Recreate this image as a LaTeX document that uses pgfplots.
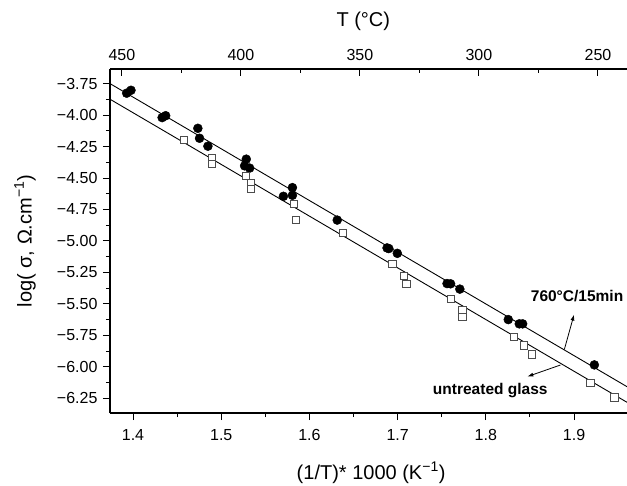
\documentclass[border=0pt]{standalone}
\usepackage{fontspec}
\setmainfont{Liberation Sans}
\usepackage{pgfplots}
\pgfplotsset{compat=1.18}
\usetikzlibrary{arrows.meta}
\begin{document}
\begin{tikzpicture}[x=1pt,y=1pt]
\path[use as bounding box] (-110,-72) rectangle (517,413);
\begin{axis}[
  at={(0,0)}, anchor=south west,
  width=517pt, height=344pt, scale only axis,
  xmin=1.3739, xmax=1.96, ymin=-6.366, ymax=-3.634,
  axis x line*=bottom, axis y line*=left,
  axis line style={line width=1.1pt},
  every tick/.style={black, line width=1pt},
  tick align=outside,
  major tick length=7pt, minor tick length=4pt,
  xtick={1.4,1.5,1.6,1.7,1.8,1.9},
  xticklabels={1.4,1.5,1.6,1.7,1.8,1.9},
  minor x tick num=1,
  ytick={-6.25,-6,-5.75,-5.5,-5.25,-5,-4.75,-4.5,-4.25,-4,-3.75},
  yticklabels={−6.25,−6.00,−5.75,−5.50,−5.25,−5.00,−4.75,−4.50,−4.25,−4.00,−3.75},
  minor y tick num=1,
  ticklabel style={font=\fontsize{16}{16}\selectfont},
  xticklabel style={yshift=-6pt},
  yticklabel style={xshift=-2pt},
  label style={font=\fontsize{20}{20}\selectfont},
  xlabel={(1/T)* 1000 (K\textsuperscript{−1})},
  ylabel={log( σ, Ω.cm\textsuperscript{−1})},
  xlabel style={at={(axis description cs:0.505,-0.1744)}, anchor=center},
  ylabel style={at={(axis description cs:-0.1644,0.5)}, anchor=center},
  clip=true,
]
% fitted lines
\addplot[black, line width=0.9pt] coordinates {(1.3739,-3.75) (1.96,-6.157)};
\addplot[black, line width=0.9pt] coordinates {(1.3739,-3.874) (1.96,-6.281)};
% 760C/15min (filled circles)
\addplot[only marks, mark=*, mark size=4.5pt, mark options={fill=black, draw=black}] coordinates {
(1.3928,-3.826) (1.3977,-3.803) (1.433,-4.020) (1.437,-4.005)
(1.4735,-4.105) (1.4754,-4.184) (1.4849,-4.247) (1.5284,-4.350)
(1.5265,-4.403) (1.5322,-4.421) (1.5705,-4.645) (1.5807,-4.576)
(1.5807,-4.637) (1.6315,-4.834) (1.6880,-5.055) (1.6900,-5.060)
(1.6996,-5.098) (1.7560,-5.338) (1.7600,-5.340) (1.7705,-5.382)
(1.8254,-5.624) (1.8379,-5.658) (1.8417,-5.658) (1.9230,-5.984)
};
% untreated glass (open squares)
\addplot[only marks, mark=square*, mark size=3.6pt, mark options={fill=white, draw=black!70, line width=0.8pt}] coordinates {
(1.458,-4.195) (1.489,-4.339) (1.489,-4.389) (1.528,-4.482)
(1.5337,-4.537) (1.534,-4.589) (1.582,-4.705) (1.585,-4.834)
(1.6383,-4.934) (1.694,-5.182) (1.7072,-5.274) (1.7099,-5.339)
(1.760,-5.458) (1.7735,-5.545) (1.7735,-5.603) (1.832,-5.761)
(1.8428,-5.829) (1.8523,-5.900) (1.9185,-6.124) (1.9458,-6.242)
};
\draw[line width=0.8pt, -{Latex[length=6pt,width=4pt]}] (axis cs:1.889,-5.861) -- (axis cs:1.900,-5.584);
\draw[line width=0.8pt, -{Latex[length=6pt,width=4pt]}] (axis cs:1.8845,-5.985) -- (axis cs:1.847,-6.077);
\node[font=\bfseries\fontsize{15.5}{15.5}\selectfont] at (axis cs:1.9034,-5.44) {760°C/15min};
\node[font=\bfseries\fontsize{15.5}{15.5}\selectfont] at (axis cs:1.805,-6.19) {untreated glass};
\end{axis}
\begin{axis}[
  at={(0,0)}, anchor=south west,
  width=517pt, height=344pt, scale only axis,
  xmin=237.8, xmax=455, x dir=reverse, ymin=0, ymax=1,
  axis x line*=top, axis y line=none,
  axis line style={line width=1.1pt},
  every tick/.style={black, line width=1pt},
  tick align=inside,
  major tick length=7pt, minor tick length=4pt,
  xtick={250,300,350,400,450},
  xticklabels={250,300,350,400,450},
  minor x tick num=1,
  ticklabel style={font=\fontsize{16}{16}\selectfont},
  xticklabel style={yshift=5pt},
  label style={font=\fontsize{20}{20}\selectfont},
  xlabel={T (°C)},
  xlabel style={at={(axis description cs:0.49,1.1395)}, anchor=center},
]
\end{axis}
\end{tikzpicture}
\end{document}
